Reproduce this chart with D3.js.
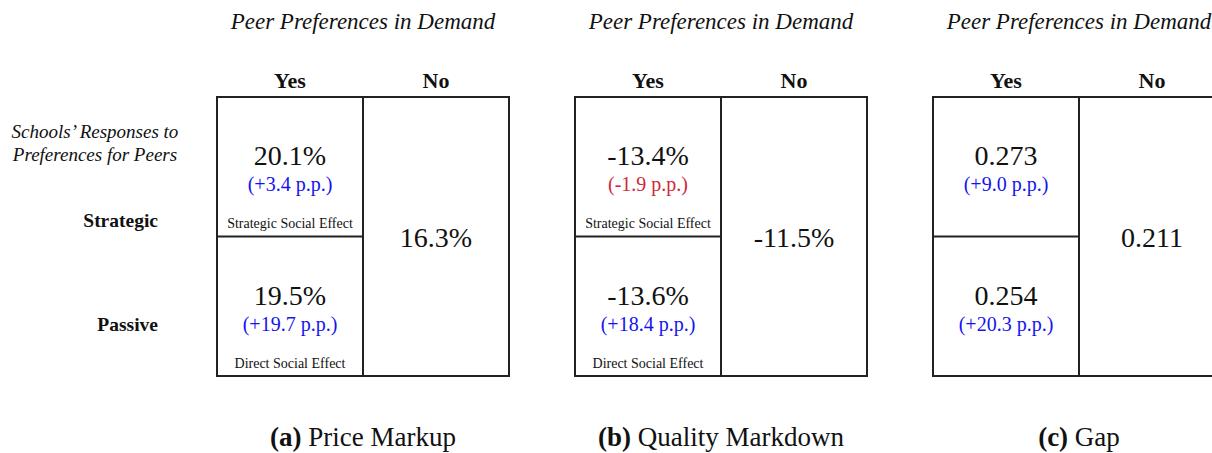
<!DOCTYPE html>
<html>
<head>
<meta charset="utf-8">
<script src="https://cdn.jsdelivr.net/npm/d3@7"></script>
<style>
  body { margin: 0; background: #fff; }
  text { font-family: "Liberation Serif", "DejaVu Serif", serif; fill: #111; }
</style>
</head>
<body>
<svg width="1212" height="453"></svg>
<script>
const panels = ["a", "b", "c"];
const captions = ["Price Markup", "Quality Markdown", "Gap"];
const columns = ["Yes", "No"];
const rows = ["Strategic", "Passive"];
const strategicValues = [20.1, -13.4, 0.273];
const strategicPP = [3.4, -1.9, 9.0];
const passiveValues = [19.5, -13.6, 0.254];
const passivePP = [19.7, 18.4, 20.3];
const noValues = [16.3, -11.5, 0.211];
const isPercent = [true, true, false];
const cellLabels = ["Strategic Social Effect", "Direct Social Effect"];

const svg = d3.select("svg");
const boxW = 292;

const x = d3.scalePoint().domain(panels).range([217, 933]);
const col = d3.scaleBand().domain(columns).range([0, boxW]);
const y = d3.scaleBand().domain(rows).range([97, 376]);

// plain hyphen for negatives, like the original
const locale = d3.formatLocale({ decimal: ".", thousands: ",", grouping: [3], currency: ["", ""], minus: "-" });
const f1 = locale.format(".1f");
const f3 = locale.format(".3f");
const fmtValue = (v, i) => isPercent[i] ? f1(v) + "%" : f3(v);
const fmtPP = v => "(" + (v >= 0 ? "+" : "") + f1(v) + " p.p.)";
const ppColor = v => v >= 0 ? "#1414ee" : "#d0283a";

// row labels on the left
const left = svg.append("g");
left.append("text")
  .attr("x", 95).attr("y", 138)
  .attr("text-anchor", "middle")
  .attr("font-style", "italic").attr("font-size", 19)
  .text("Schools\u2019 Responses to");
left.append("text")
  .attr("x", 95).attr("y", 161)
  .attr("text-anchor", "middle")
  .attr("font-style", "italic").attr("font-size", 19)
  .text("Preferences for Peers");
left.selectAll(".rowlab")
  .data(rows)
  .join("text")
  .attr("class", "rowlab")
  .attr("x", 158)
  .attr("y", (d, i) => y(d) + (i === 0 ? 130 : 94))
  .attr("text-anchor", "end")
  .attr("font-weight", "bold").attr("font-size", 19.5)
  .text(d => d);

panels.forEach((p, i) => {
  const g = svg.append("g").attr("transform", `translate(${x(p)},0)`);

  g.append("text")
    .attr("x", boxW / 2).attr("y", 29)
    .attr("text-anchor", "middle")
    .attr("font-style", "italic").attr("font-size", 23)
    .text("Peer Preferences in Demand");

  g.selectAll(".colhead")
    .data(columns)
    .join("text")
    .attr("class", "colhead")
    .attr("x", d => col(d) + col.bandwidth() / 2)
    .attr("y", 88)
    .attr("text-anchor", "middle")
    .attr("font-weight", "bold").attr("font-size", 22)
    .text(d => d);

  // box and dividers
  g.append("rect")
    .attr("x", 0).attr("y", y.range()[0])
    .attr("width", boxW).attr("height", y.range()[1] - y.range()[0])
    .attr("fill", "none").attr("stroke", "#222").attr("stroke-width", 2);
  g.append("line")
    .attr("x1", col("No")).attr("x2", col("No"))
    .attr("y1", y.range()[0]).attr("y2", y.range()[1])
    .attr("stroke", "#222").attr("stroke-width", 2);
  g.append("line")
    .attr("x1", 0).attr("x2", col("No"))
    .attr("y1", y("Passive")).attr("y2", y("Passive"))
    .attr("stroke", "#222").attr("stroke-width", 2);

  const cx = col("Yes") + col.bandwidth() / 2;
  const cells = [
    { row: "Strategic", v: strategicValues[i], pp: strategicPP[i], lab: cellLabels[0] },
    { row: "Passive", v: passiveValues[i], pp: passivePP[i], lab: cellLabels[1] }
  ];
  cells.forEach(c => {
    const top = y(c.row);
    g.append("text")
      .attr("x", cx).attr("y", top + 68)
      .attr("text-anchor", "middle").attr("font-size", 28)
      .text(fmtValue(c.v, i));
    g.append("text")
      .attr("x", cx).attr("y", top + 94)
      .attr("text-anchor", "middle").attr("font-size", 20)
      .style("fill", ppColor(c.pp))
      .text(fmtPP(c.pp));
    if (isPercent[i]) {
      g.append("text")
        .attr("x", cx).attr("y", top + 131)
        .attr("text-anchor", "middle").attr("font-size", 14)
        .text(c.lab);
    }
  });

  g.append("text")
    .attr("x", col("No") + col.bandwidth() / 2)
    .attr("y", (y.range()[0] + y.range()[1]) / 2 + 10)
    .attr("text-anchor", "middle").attr("font-size", 28)
    .text(fmtValue(noValues[i], i));

  const cap = g.append("text")
    .attr("x", boxW / 2).attr("y", 446)
    .attr("text-anchor", "middle").attr("font-size", 27);
  cap.append("tspan").attr("font-weight", "bold").text(`(${p})`);
  cap.append("tspan").text(" " + captions[i]);
});
</script>
</body>
</html>
